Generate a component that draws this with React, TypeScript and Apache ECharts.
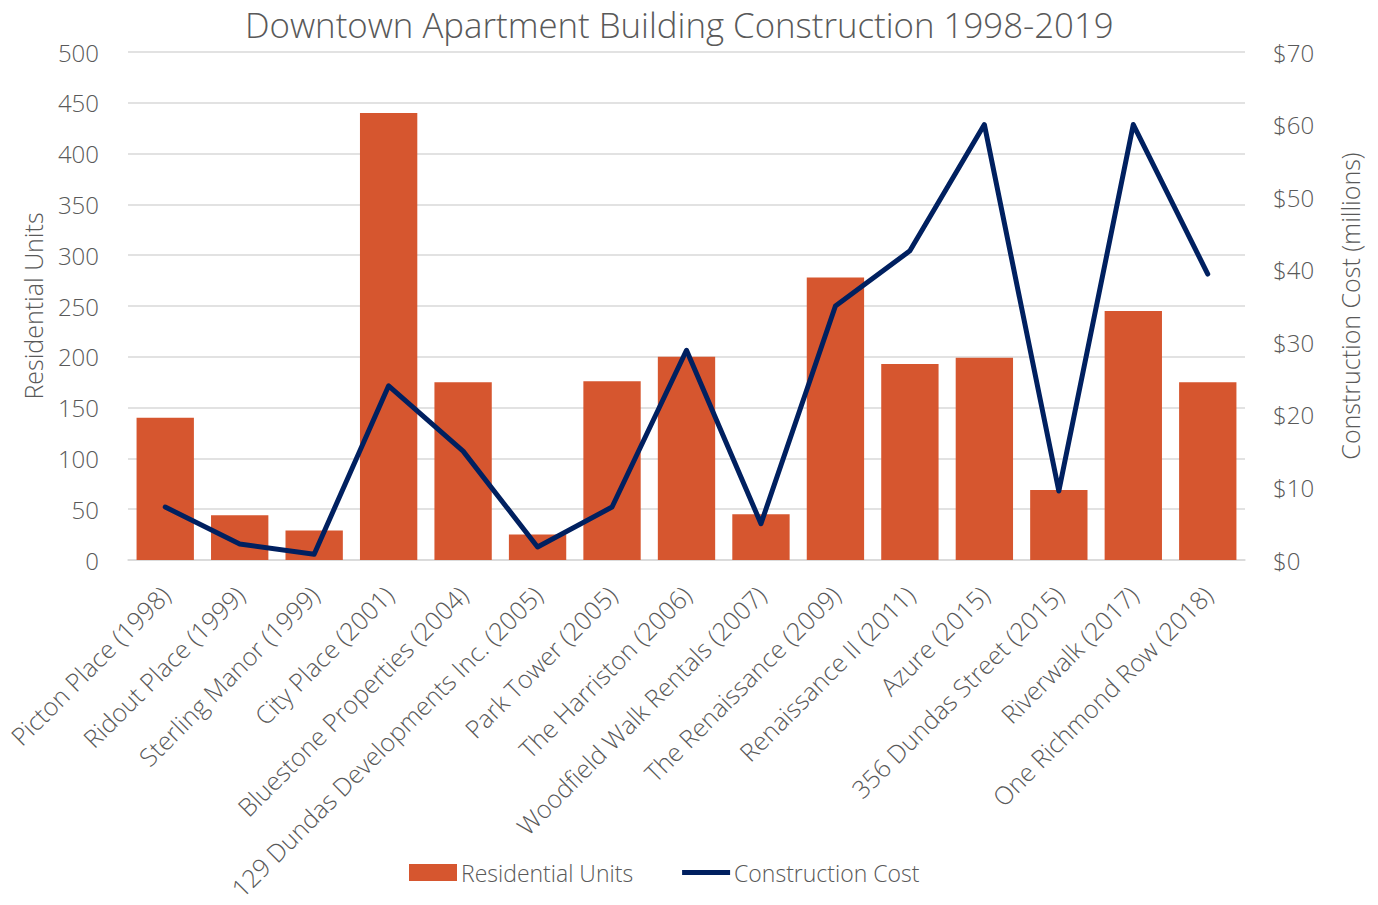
import React, { useEffect, useRef } from "react";
import * as echarts from "echarts";

const categories = [
  "Picton Place (1998)",
  "Ridout Place (1999)",
  "Sterling Manor (1999)",
  "City Place (2001)",
  "Bluestone Properties (2004)",
  "129 Dundas Developments Inc. (2005)",
  "Park Tower (2005)",
  "The Harriston (2006)",
  "Woodfield Walk Rentals (2007)",
  "The Renaissance (2009)",
  "Renaissance II (2011)",
  "Azure (2015)",
  "356 Dundas Street (2015)",
  "Riverwalk (2017)",
  "One Richmond Row (2018)",
];
const residentialUnits = [140, 44, 29, 440, 175, 25, 176, 200, 45, 278, 193, 199, 69, 245, 175];
const constructionCost = [7.3, 2.2, 0.8, 24.0, 15.0, 1.8, 7.3, 28.9, 5.0, 35.0, 42.6, 60.0, 9.5, 60.0, 39.4];

const FONT = "'Open Sans', 'Noto Sans', sans-serif";
const GRAY = "#595959";

export default function App() {
  const ref = useRef<HTMLDivElement>(null);
  useEffect(() => {
    if (!ref.current) return;
    const chart = echarts.init(ref.current, undefined, { renderer: "svg" });
    chart.setOption({
      animation: false,
      backgroundColor: "#ffffff",
      textStyle: { fontFamily: FONT },
      title: {
        text: "Downtown Apartment Building Construction 1998-2019",
        left: 240,
        top: 2,
        textStyle: { fontFamily: FONT, fontSize: 34.8, fontWeight: 300, color: GRAY },
      },
      legend: {
        top: 856,
        left: 404,
        itemGap: 49,
        itemWidth: 48,
        itemHeight: 17,
        textStyle: { fontFamily: FONT, fontSize: 23, fontWeight: 300, color: GRAY, padding: [0, 0, 0, -1] },
        data: [
          { name: "Residential Units", icon: "rect" },
          { name: "Construction Cost", icon: "path://M0,0 h50 v5 h-50 z" },
        ],
      },
      grid: { left: 128, right: 133, top: 52, bottom: 345, containLabel: false },
      xAxis: {
        type: "category",
        data: categories,
        axisTick: { show: false },
        axisLine: { lineStyle: { color: "#d9d9d9", width: 1.5 } },
        axisLabel: {
          rotate: 45,
          interval: 0,
          margin: 30,
          fontFamily: FONT,
          fontSize: 25,
          fontWeight: 300,
          color: GRAY,
        },
      },
      yAxis: [
        {
          type: "value",
          min: 0,
          max: 500,
          interval: 50,
          name: "Residential Units",
          nameLocation: "middle",
          nameGap: 83,
          nameTextStyle: { fontFamily: FONT, fontSize: 25, fontWeight: 300, color: GRAY },
          axisLabel: { margin: 29, fontFamily: FONT, fontSize: 24, fontWeight: 300, color: GRAY },
          splitLine: { lineStyle: { color: "#d9d9d9", width: 1.5 } },
          axisLine: { show: false },
          axisTick: { show: false },
        },
        {
          type: "value",
          min: 0,
          max: 70,
          interval: 10,
          name: "Construction Cost (millions)",
          nameLocation: "middle",
          nameGap: 92,
          nameTextStyle: { fontFamily: FONT, fontSize: 25, fontWeight: 300, color: GRAY },
          axisLabel: {
            margin: 28,
            fontFamily: FONT,
            fontSize: 24,
            fontWeight: 300,
            color: GRAY,
            formatter: (v: number) => "$" + v,
          },
          splitLine: { show: false },
          axisLine: { show: false },
          axisTick: { show: false },
        },
      ],
      series: [
        {
          name: "Residential Units",
          type: "bar",
          data: residentialUnits,
          barCategoryGap: "23%",
          itemStyle: { color: "#D6562F" },
          yAxisIndex: 0,
        },
        {
          name: "Construction Cost",
          type: "line",
          data: constructionCost,
          yAxisIndex: 1,
          symbol: "none",
          lineStyle: { color: "#002060", width: 5, cap: "round", join: "round" },
          itemStyle: { color: "#002060" },
        },
      ],
    });
    return () => chart.dispose();
  }, []);
  return (
    <div
      ref={ref}
      style={{ position: "absolute", left: 0, top: 0, width: 1378, height: 905 }}
    />
  );
}
